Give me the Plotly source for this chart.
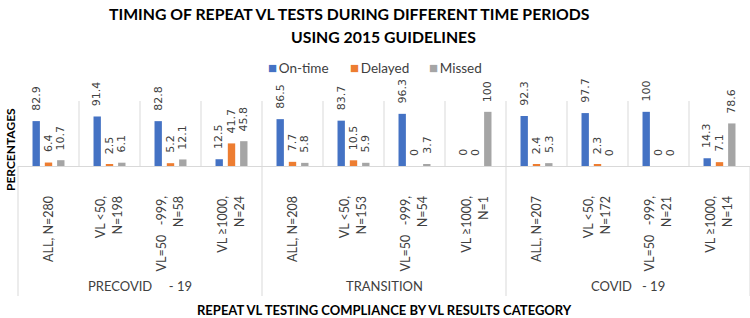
import plotly.graph_objects as go

# ---------------- data ----------------
categories = [
    "ALL, N=280", "VL <50,<br>N=198", "VL=50   -999,<br>N=58", "VL \u22651000,<br>N=24",
    "ALL, N=208", "VL <50,<br>N=153", "VL=50   -999,<br>N=54", "VL \u22651000,<br>N=1",
    "ALL, N=207", "VL <50,<br>N=172", "VL=50   -999,<br>N=21", "VL \u22651000,<br>N=14",
]
groups = ["PRECOVID\u00a0\u00a0\u00a0\u00a0 - 19", "TRANSITION", "COVID\u00a0\u00a0 - 19"]
on_time = [82.9, 91.4, 82.8, 12.5, 86.5, 83.7, 96.3, 0, 92.3, 97.7, 100, 14.3]
delayed = [6.4, 2.5, 5.2, 41.7, 7.7, 10.5, 0, 0, 2.4, 2.3, 0, 7.1]
missed = [10.7, 6.1, 12.1, 45.8, 5.8, 5.9, 3.7, 100, 5.3, 0, 0, 78.6]
series_names = ["On-time", "Delayed", "Missed"]
colors = ["#4472C4", "#ED7D31", "#A5A5A5"]

# ---------------- layout constants ----------------
W, H = 750, 318
ML, MR, MT, MB = 18, 0, 101, 152
PW, PH = W - ML - MR, H - MT - MB
BARGAP = 0.395
BARGROUPGAP = 0.4
YMAX = 120
LEGEND_X = [266, 348, 427]

def px_x(p):
    return (p - ML) / PW

def px_y(p):
    return (H - MB - p) / PH

fig = go.Figure()
series = [on_time, delayed, missed]
for name, vals, col in zip(series_names, series, colors):
    fig.add_trace(go.Bar(x=categories, y=vals, name=name, marker_color=col,
                         marker_line_width=0, showlegend=False))

# data labels (rotated, above each bar)
n = len(categories)
catw = PW / n
slot = (1 - BARGAP) * catw / 3
annotations = []
for si, vals in enumerate(series):
    for c, v in zip(categories, vals):
        annotations.append(dict(
            x=c, y=v, xref="x", yref="y", text=f"{v:g}", showarrow=False,
            textangle=-90, yanchor="bottom", xanchor="center",
            xshift=(si - 1) * slot, yshift=8,
            font=dict(family="DejaVu Sans", size=11, color="#404040")))

# group labels
for gi, g in enumerate(groups):
    annotations.append(dict(x=(gi * 4 + 2) / n, y=px_y(286), xref="paper", yref="paper",
                            text=g, showarrow=False, xanchor="center", yanchor="middle",
                            font=dict(family="Lato", size=13, color="#404040")))

# titles
annotations += [
    dict(x=px_x(349), y=px_y(13), xref="paper", yref="paper", showarrow=False,
         text="<b>TIMING OF REPEAT VL TESTS DURING DIFFERENT TIME PERIODS</b>",
         font=dict(family="Lato", size=15.8, color="#000000"), xanchor="center", yanchor="middle"),
    dict(x=px_x(383), y=px_y(36), xref="paper", yref="paper", showarrow=False,
         text="<b>USING 2015 GUIDELINES</b>",
         font=dict(family="Lato", size=15.8, color="#000000"), xanchor="center", yanchor="middle"),
    dict(x=px_x(10), y=px_y(150), xref="paper", yref="paper", showarrow=False,
         text="<b>PERCENTAGES</b>", textangle=-90,
         font=dict(family="Lato", size=12, color="#000000"), xanchor="center", yanchor="middle"),
    dict(x=px_x(384), y=px_y(310), xref="paper", yref="paper", showarrow=False,
         text="<b>REPEAT VL TESTING COMPLIANCE BY VL RESULTS CATEGORY</b>",
         font=dict(family="Lato", size=13, color="#000000"), xanchor="center", yanchor="middle"),
]

# legend (custom, compact like the original)
for nm, c, lx in zip(series_names, colors, LEGEND_X):
    annotations.append(dict(
        x=px_x(lx), y=px_y(67), xref="paper", yref="paper", showarrow=False,
        text=f"<span style='color:{c};font-size:15px'>\u25A0</span>\u2009{nm}",
        xanchor="left", yanchor="middle",
        font=dict(family="Lato", size=13.5, color="#404040")))

# gridlines / dividers
shapes = []
for k in range(1, n):
    shapes.append(dict(type="line", xref="paper", yref="paper", x0=k / n, x1=k / n,
                       y0=0, y1=1, line=dict(color="#D9D9D9", width=1)))
for k in [0, 4, 8, 12]:
    shapes.append(dict(type="line", xref="paper", yref="paper", x0=k / n, x1=k / n,
                       y0=0, y1=px_y(296), line=dict(color="#D9D9D9", width=1)))

fig.update_layout(
    width=W, height=H, margin=dict(l=ML, r=MR, t=MT, b=MB),
    paper_bgcolor="white", plot_bgcolor="white",
    barmode="group", bargap=BARGAP, bargroupgap=BARGROUPGAP,
    annotations=annotations, shapes=shapes, showlegend=False,
    xaxis=dict(type="category", showline=True, linecolor="#D9D9D9", linewidth=1,
               showgrid=False, ticks="", tickangle=-90, ticklabelstandoff=24,
               tickfont=dict(family="Lato", size=12.5, color="#404040")),
    yaxis=dict(range=[0, YMAX], showticklabels=False, showgrid=False, zeroline=False,
               showline=False, ticks=""),
)

fig.write_html("out.html")
